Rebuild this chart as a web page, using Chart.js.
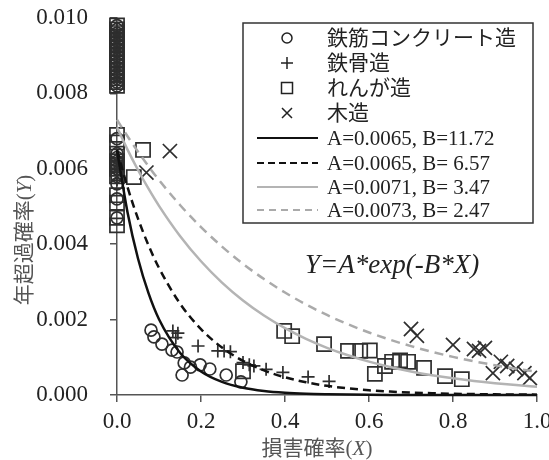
<!DOCTYPE html>
<html><head><meta charset="utf-8">
<script src="https://cdn.jsdelivr.net/npm/chart.js@4.4.0/dist/chart.umd.min.js"></script>
<style>html,body{margin:0;padding:0;background:#fff;}#wrap{width:549px;height:460px;position:relative;}</style>
</head><body><div id="wrap"><canvas id="c" width="549" height="460"></canvas></div>
<script>
// ---- tick labels ----
const xTickLabels = ["0.0","0.2","0.4","0.6","0.8","1.0"];
const yTickLabels = ["0.000","0.002","0.004","0.006","0.008","0.010"];

// ---- series names / legend ----
const seriesNames = ["鉄筋コンクリート造","鉄骨造","れんが造","木造"];
const fitLabels = ["A=0.0065, B=11.72","A=0.0065, B= 6.57","A=0.0071, B= 3.47","A=0.0073, B= 2.47"];
const equationText = "Y=A*exp(-B*X)";
const xTitle = "損害確率(X)";
const yTitle = "年超過確率(Y)";

const rcX = [0,0,0,0,0,0,0,0,0,0,0,0,0,0,0,0,0,0,0,0,0,0,0,0,0,0,0,
  0.081,0.088,0.107,0.131,0.143,0.155,0.160,0.175,0.198,0.221,0.260,0.295];
const rcY = [0.0098,0.0097,0.0096,0.0095,0.0094,0.0093,0.0092,0.0091,0.0090,0.0089,0.0088,0.0087,0.0086,0.0085,0.0084,0.0083,0.0082,
  0.0068,0.0064,0.0063,0.0062,0.0061,0.0060,0.0058,0.0056,0.0052,0.0047,
  0.00172,0.00154,0.00135,0.00119,0.00114,0.00053,0.00085,0.00074,0.00080,0.00069,0.00053,0.00035];

const steelX = [0,0,0,0,0,0,0,0,0,0,0,0,
  0.133,0.145,0.140,0.193,0.240,0.255,0.270,0.300,0.315,0.326,0.355,0.395,0.455,0.505];
const steelY = [0.0097,0.0095,0.0093,0.0091,0.0089,0.0087,0.0085,0.0083,0.0063,0.0061,0.0059,0.0057,
  0.00170,0.00164,0.00152,0.00130,0.00117,0.00117,0.00115,0.00086,0.00080,0.00077,0.00068,0.00060,0.00048,0.00036];

const brickX = [0,0,0,0,0,0,0,0,0,0,0,0,0,0,0,0,0,0,0,0,0,0,0,0,0,0,0,0,
  0.040,0.062,0.300,0.398,0.417,0.493,0.550,0.579,0.602,0.614,0.638,0.655,0.674,0.693,0.731,0.781,0.821];
const brickY = [0.0098,0.0097,0.0096,0.0095,0.0094,0.0093,0.0092,0.0091,0.0090,0.0089,0.0088,0.0087,0.0086,0.0085,0.0084,0.0083,0.0082,
  0.0069,0.0067,0.0064,0.0062,0.0061,0.0060,0.0058,0.0053,0.0051,0.0047,0.0045,
  0.00578,0.00650,0.00063,0.00170,0.00156,0.00135,0.00117,0.00117,0.00118,0.00056,0.00077,0.00088,0.00092,0.00088,0.00072,0.00050,0.00042];

const woodX = [0,0,0.070,0.126,
  0.700,0.714,0.800,0.850,0.862,0.876,0.895,0.914,0.929,0.950,0.970,0.983];
const woodY = [0.0061,0.0058,0.00590,0.00647,
  0.00175,0.00157,0.00133,0.00122,0.00117,0.00125,0.00058,0.00088,0.00077,0.00069,0.00058,0.00045];

// ---- fitted curves ----
const curveX = [0,0.025,0.05,0.075,0.1,0.15,0.2,0.25,0.3,0.35,0.4,0.45,0.5,0.55,0.6,0.65,0.7,0.75,0.8,0.85,0.9,0.95,1.0];
const fit1Y = [0.0065,0.00485,0.00362,0.00270,0.00201,0.00112,0.000624,0.000347,0.000193,0.000108,0.000060,0.000033,0.000019,0.0000103,0.0000057,0.0000032,0.0000018,0.0000010,0.0000005,0.0000003,0.0000002,0.0000001,0.0000001];
const fit2Y = [0.0065,0.005515,0.00468,0.00397,0.00337,0.002426,0.001747,0.001258,0.000906,0.000652,0.000470,0.000338,0.000243,0.000175,0.000126,0.0000909,0.0000654,0.0000471,0.0000339,0.0000244,0.0000176,0.0000127,0.0000091];
const fit3Y = [0.0071,0.00651,0.005969,0.005473,0.005018,0.004219,0.003547,0.002982,0.002507,0.002108,0.001772,0.001490,0.001252,0.001053,0.000885,0.000744,0.000626,0.000526,0.000442,0.000372,0.000313,0.000263,0.000221];
const fit4Y = [0.0073,0.006863,0.006452,0.006066,0.005702,0.005040,0.004454,0.003937,0.003479,0.003075,0.002718,0.002402,0.002123,0.001877,0.001659,0.001466,0.001296,0.001145,0.001012,0.000894,0.000790,0.000699,0.000618];

const pts = (xs, ys) => xs.map((x, i) => ({x: x, y: ys[i]}));

const SERIF = '"Liberation Serif", "Noto Sans CJK JP", serif';
const MARK = '#2e2e2e';

const markerSet = (label, xs, ys, style, r) => ({
  type: 'scatter', label: label, data: pts(xs, ys),
  pointStyle: style, pointRadius: r, borderColor: MARK, backgroundColor: 'rgba(0,0,0,0)',
  pointBorderWidth: 1.7, borderWidth: 1.7, showLine: false, clip: false, order: 2
});
const fitSet = (label, ys, color, dash, w) => ({
  type: 'line', label: label, data: pts(curveX, ys),
  borderColor: color, borderWidth: w, borderDash: dash, pointRadius: 0,
  fill: false, cubicInterpolationMode: 'monotone', clip: false, order: 1
});

const datasets = [
  markerSet(seriesNames[0], rcX, rcY, 'circle', 6),
  markerSet(seriesNames[1], steelX, steelY, 'cross', 6.5),
  markerSet(seriesNames[2], brickX, brickY, 'rect', 10),
  markerSet(seriesNames[3], woodX, woodY, 'crossRot', 10),
  fitSet(fitLabels[0], fit1Y, '#111', [], 2.5),
  fitSet(fitLabels[1], fit2Y, '#111', [8, 5], 2.5),
  fitSet(fitLabels[2], fit3Y, '#b4b4b4', [], 2.5),
  fitSet(fitLabels[3], fit4Y, '#aaaaaa', [9, 6], 2.5)
];

const extras = {
  id: 'extras',
  afterDraw(chart) {
    const ctx = chart.ctx;
    ctx.save();
    // y title (rotated)
    ctx.fillStyle = '#555';
    ctx.textBaseline = 'middle';
    const pre = yTitle.slice(0, yTitle.indexOf('(') + 1);
    const mid = 'Y', post = ')';
    const fN = '21px ' + SERIF, fI = 'italic 21px ' + SERIF;
    ctx.font = fN; const w1 = ctx.measureText(pre).width, w3 = ctx.measureText(post).width;
    ctx.font = fI; const w2 = ctx.measureText(mid).width;
    const tw = w1 + w2 + w3;
    ctx.translate(25, 240); ctx.rotate(-Math.PI / 2);
    ctx.textAlign = 'left';
    ctx.font = fN; ctx.fillText(pre, -tw / 2, 0);
    ctx.font = fI; ctx.fillText(mid, -tw / 2 + w1, 0);
    ctx.font = fN; ctx.fillText(post, -tw / 2 + w1 + w2, 0);
    ctx.setTransform(1, 0, 0, 1, 0, 0);
    // x title
    const xpre = xTitle.slice(0, xTitle.indexOf('(') + 1);
    ctx.font = fN; const a1 = ctx.measureText(xpre).width, a3 = ctx.measureText(')').width;
    ctx.font = fI; const a2 = ctx.measureText('X').width;
    const xw = a1 + a2 + a3; const xs0 = 317 - xw / 2;
    ctx.font = fN; ctx.fillText(xpre, xs0, 449);
    ctx.font = fI; ctx.fillText('X', xs0 + a1, 449);
    ctx.font = fN; ctx.fillText(')', xs0 + a1 + a2, 449);
    // equation
    ctx.fillStyle = '#222';
    ctx.font = 'italic 27px ' + SERIF;
    ctx.textAlign = 'left';
    ctx.fillText(equationText, 305, 266);
    // legend
    const L = 243, T = 23, W = 290, H = 200;
    ctx.fillStyle = '#fff'; ctx.fillRect(L, T, W, H);
    ctx.strokeStyle = '#333'; ctx.lineWidth = 1.5; ctx.strokeRect(L, T, W, H);
    const rows = [38, 63, 88, 113, 138, 163, 187, 210];
    const mx = 287;
    ctx.strokeStyle = '#222'; ctx.lineWidth = 1.5;
    ctx.beginPath(); ctx.arc(mx, rows[0], 5, 0, Math.PI * 2); ctx.stroke();
    ctx.beginPath(); ctx.moveTo(mx - 6, rows[1]); ctx.lineTo(mx + 6, rows[1]);
    ctx.moveTo(mx, rows[1] - 6); ctx.lineTo(mx, rows[1] + 6); ctx.stroke();
    ctx.strokeRect(mx - 5.5, rows[2] - 5.5, 11, 11);
    ctx.beginPath(); ctx.moveTo(mx - 5, rows[3] - 5); ctx.lineTo(mx + 5, rows[3] + 5);
    ctx.moveTo(mx + 5, rows[3] - 5); ctx.lineTo(mx - 5, rows[3] + 5); ctx.stroke();
    const ls = [['#111', []], ['#111', [7, 4]], ['#b4b4b4', []], ['#aaaaaa', [7, 5]]];
    for (let i = 0; i < 4; i++) {
      ctx.strokeStyle = ls[i][0]; ctx.setLineDash(ls[i][1]); ctx.lineWidth = 2;
      ctx.beginPath(); ctx.moveTo(257, rows[4 + i]); ctx.lineTo(318, rows[4 + i]); ctx.stroke();
    }
    ctx.setLineDash([]);
    ctx.fillStyle = '#222'; ctx.font = '21px ' + SERIF; ctx.textBaseline = 'middle';
    for (let i = 0; i < 4; i++) ctx.fillText(seriesNames[i], 327, rows[i] + 1);
    for (let i = 0; i < 4; i++) ctx.fillText(fitLabels[i], 327, rows[4 + i] + 1);
    ctx.restore();
  }
};

new Chart(document.getElementById('c'), {
  data: { datasets: datasets },
  options: {
    responsive: false, animation: false, events: [],
    layout: { padding: { top: 18, right: 12, left: 0, bottom: 0 } },
    plugins: { legend: { display: false }, tooltip: { enabled: false } },
    scales: {
      x: {
        type: 'linear', min: 0, max: 1,
        ticks: { stepSize: 0.2, color: '#222', font: { family: SERIF, size: 23 }, padding: 6,
          callback: (v, i) => xTickLabels[i], maxRotation: 0, autoSkip: false },
        grid: { drawOnChartArea: false, drawTicks: true, tickLength: 7, color: '#555', lineWidth: 1.5 },
        border: { display: true, color: '#555', width: 1.5 },
        afterFit(s) { s.height = 65; s.paddingLeft = 0; s.paddingRight = 0; }
      },
      y: {
        type: 'linear', min: 0, max: 0.01,
        ticks: { stepSize: 0.002, color: '#222', font: { family: SERIF, size: 23 }, padding: 22,
          callback: (v, i) => yTickLabels[i], autoSkip: false },
        grid: { drawOnChartArea: false, drawTicks: true, tickLength: 7, color: '#555', lineWidth: 1.5 },
        border: { display: true, color: '#555', width: 1.5 },
        afterFit(s) { s.width = 117; s.paddingTop = 0; s.paddingBottom = 0; }
      }
    }
  },
  plugins: [extras]
});
</script></body></html>
